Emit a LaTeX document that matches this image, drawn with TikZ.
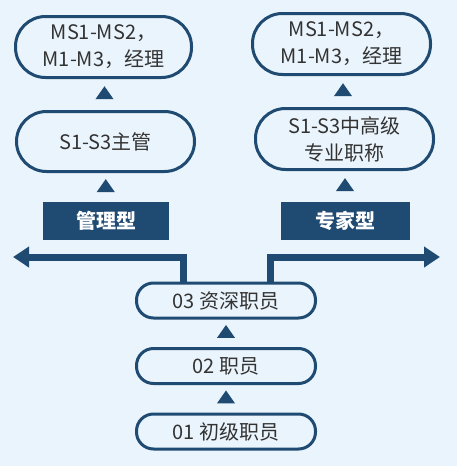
\documentclass[tikz,border=0pt]{standalone}
\usepackage{fontspec}
\setmainfont{Noto Sans CJK SC}
\usetikzlibrary{shapes.geometric,arrows.meta}
\definecolor{navy}{HTML}{1F4A72}
\definecolor{bgblue}{HTML}{EAF4FC}
\definecolor{txt}{HTML}{333333}
\tikzset{
  pill/.style={draw=navy, line width=3pt, fill=bgblue, rounded corners=#1, text=txt,
    font=\fontsize{20}{27}\selectfont, align=center, inner sep=0pt},
  pill/.default=19pt,
  darkbox/.style={fill=navy, text=white, font=\fontsize{20}{24}\selectfont\bfseries,
    minimum width=128pt, minimum height=38pt, inner sep=0pt},
  uptri/.style={isosceles triangle, isosceles triangle apex angle=70, shape border rotate=90,
    fill=navy, draw=none, minimum height=13pt, minimum width=17pt, inner sep=0pt},
  bar/.style={draw=navy, line width=7pt, -{Triangle[length=16pt,width=20pt]}}
}
\begin{document}
\begin{tikzpicture}[x=1pt,y=-1pt]
\fill[bgblue] (0,0) rectangle (457,466);
\useasboundingbox (0,0) rectangle (457,466);
% left column
\node[pill=30pt, minimum width=176pt, minimum height=61pt] (L1) at (103.5,47) {MS1-MS2，\\M1-M3，经理};
\node[pill=30pt, minimum width=178pt, minimum height=60pt] (L2) at (105.5,141.5) {S1-S3主管};
\node[darkbox, minimum width=126pt] (Lt) at (106,221) {管理型};
% right column
\node[pill=30pt, minimum width=178pt, minimum height=61pt] (R1) at (341.5,44) {MS1-MS2，\\M1-M3，经理};
\node[pill=30pt, minimum width=178pt, minimum height=61pt] (R2) at (344.5,139) {S1-S3中高级\\专业职称};
\node[darkbox, minimum width=129pt] (Rt) at (345.5,221) {专家型};
% center column
\node[pill=17pt, minimum width=179pt, minimum height=35pt] (B3) at (226,300.5) {03 资深职员};
\node[pill=17pt, minimum width=179pt, minimum height=35pt] (B2) at (226,366) {02 职员};
\node[pill=17pt, minimum width=179pt, minimum height=35pt] (B1) at (226,431.5) {01 初级职员};
% triangles
\path (L2.north) -- (L1.south) node[midway, uptri] {};
\path (Lt.north) -- (L2.south) node[midway, uptri] {};
\path (R2.north) -- (R1.south) node[midway, uptri] {};
\path (Rt.north) -- (R2.south) node[midway, uptri] {};
\path (B2.north) -- (B3.south) node[midway, uptri] {};
\path (B1.north) -- (B2.south) node[midway, uptri] {};
% branching arrows
\coordinate (Lend) at (13,257);
\coordinate (Rend) at (440,257);
\draw[bar] ([xshift=-42.5pt]B3.north) |- (Lend);
\draw[bar] ([xshift=44pt]B3.north) |- (Rend);
\end{tikzpicture}
\end{document}
